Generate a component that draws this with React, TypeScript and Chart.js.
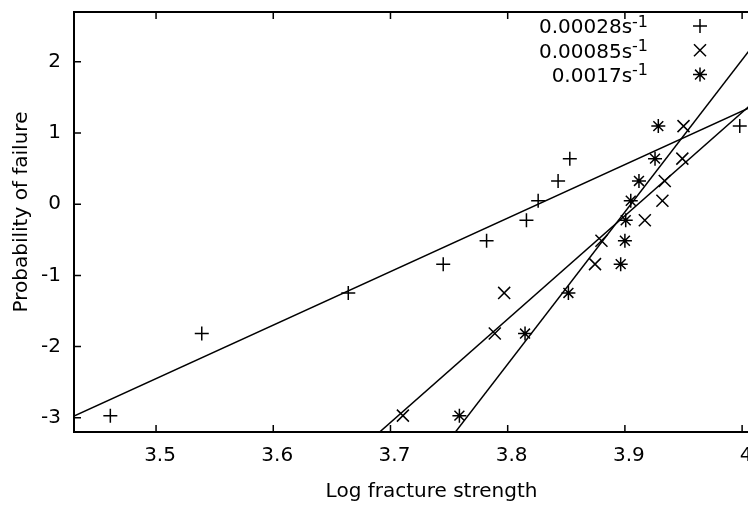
import React, { useEffect, useRef } from 'react';
import { Chart, registerables } from 'chart.js';

Chart.register(...registerables);

// ---- data ----
const seriesLabels = ['0.00028s', '0.00085s', '0.0017s'];
const labelExponent = '-1';
const probability = [-2.97, -1.817, -1.246, -0.842, -0.514, -0.225, 0.049, 0.327, 0.64, 1.097];
const strength00028 = [3.461, 3.539, 3.664, 3.745, 3.782, 3.816, 3.826, 3.843, 3.853, 3.998];
const strength00085 = [3.7106, 3.789, 3.797, 3.8745, 3.88, 3.917, 3.932, 3.934, 3.949, 3.95];
const strength0017 = [3.7588, 3.8148, 3.8518, 3.8964, 3.9, 3.9007, 3.905, 3.912, 3.9257, 3.9285];
const xTicks = [3.5, 3.6, 3.7, 3.8, 3.9, 4.0];
const yTicks = [-3, -2, -1, 0, 1, 2];
const xRange = [3.43, 4.04];
const yRange = [-3.2, 2.7];
const xTitle = 'Log fracture strength';
const yTitle = 'Probability of failure';
const pointStyles = ['cross', 'crossRot', 'star'];
const pointRadii = [7, 8.5, 7];

const seriesX = [strength00028, strength00085, strength0017];

const FONT = '"DejaVu Sans", Verdana, sans-serif';
const CANVAS_W = 800;
const CANVAS_H = 506;

function leastSquares(xs: number[], ys: number[]) {
  const n = xs.length;
  const mx = xs.reduce((a, b) => a + b, 0) / n;
  const my = ys.reduce((a, b) => a + b, 0) / n;
  let sxy = 0;
  let sxx = 0;
  for (let i = 0; i < n; i++) {
    sxy += (xs[i] - mx) * (ys[i] - my);
    sxx += (xs[i] - mx) * (xs[i] - mx);
  }
  const slope = sxy / sxx;
  return (x: number) => my + slope * (x - mx);
}

function drawSymbol(ctx: CanvasRenderingContext2D, style: string, x: number, y: number, r: number) {
  ctx.beginPath();
  if (style === 'cross' || style === 'star') {
    ctx.moveTo(x - r, y);
    ctx.lineTo(x + r, y);
    ctx.moveTo(x, y - r);
    ctx.lineTo(x, y + r);
  }
  if (style === 'crossRot' || style === 'star') {
    const d = r * Math.SQRT1_2;
    ctx.moveTo(x - d, y - d);
    ctx.lineTo(x + d, y + d);
    ctx.moveTo(x - d, y + d);
    ctx.lineTo(x + d, y - d);
  }
  ctx.stroke();
}

const framePlugin = {
  id: 'gnuplotFrame',
  afterDraw(chart: any) {
    const { ctx, chartArea } = chart;
    const { left, right, top, bottom } = chartArea;
    const xs = chart.scales.x;
    const ys = chart.scales.y;
    ctx.save();
    ctx.strokeStyle = '#000';
    ctx.lineWidth = 1.5;
    const tl = 7;
    ctx.beginPath();
    xTicks.forEach((v) => {
      const px = xs.getPixelForValue(v);
      ctx.moveTo(px, bottom);
      ctx.lineTo(px, bottom - tl);
      ctx.moveTo(px, top);
      ctx.lineTo(px, top + tl);
    });
    yTicks.forEach((v) => {
      const py = ys.getPixelForValue(v);
      ctx.moveTo(left, py);
      ctx.lineTo(left + tl, py);
      ctx.moveTo(right, py);
      ctx.lineTo(right - tl, py);
    });
    ctx.stroke();
    ctx.lineWidth = 2;
    ctx.strokeRect(left, top, right - left, bottom - top);

    // y axis title (gnuplot places it slightly above the plot centre)
    ctx.save();
    ctx.fillStyle = '#000';
    ctx.font = `20px ${FONT}`;
    ctx.textAlign = 'center';
    ctx.textBaseline = 'middle';
    ctx.translate(22, (top + bottom) / 2 - 10);
    ctx.rotate(-Math.PI / 2);
    ctx.fillText(yTitle, 0, 0);
    ctx.restore();

    // key (legend)
    const textRight = right - 141;
    const symX = right - 89;
    ctx.fillStyle = '#000';
    ctx.textAlign = 'left';
    ctx.textBaseline = 'alphabetic';
    ctx.lineWidth = 1.5;
    seriesLabels.forEach((label, i) => {
      const rowY = top + 14 + i * 24.3;
      const baseFont = `20px ${FONT}`;
      const supFont = `16px ${FONT}`;
      ctx.font = supFont;
      const wSup = ctx.measureText(labelExponent).width;
      ctx.font = baseFont;
      const wBase = ctx.measureText(label).width;
      const x0 = textRight - wSup - wBase;
      const baseLine = rowY + 7.3;
      ctx.fillText(label, x0, baseLine);
      ctx.font = supFont;
      ctx.fillText(labelExponent, x0 + wBase, baseLine - 6.6);
      drawSymbol(ctx, pointStyles[i], symX, rowY, pointRadii[i]);
    });
    ctx.restore();
  },
};

export default function App() {
  const canvasRef = useRef<HTMLCanvasElement | null>(null);

  useEffect(() => {
    const canvas = canvasRef.current;
    if (!canvas) return;

    const datasets: any[] = [];
    seriesX.forEach((xs, i) => {
      datasets.push({
        label: seriesLabels[i] + labelExponent,
        data: xs.map((x, j) => ({ x, y: probability[j] })),
        showLine: false,
        pointStyle: pointStyles[i],
        pointRadius: pointRadii[i],
        pointHoverRadius: pointRadii[i],
        pointBorderColor: '#000',
        pointBackgroundColor: '#000',
        pointBorderWidth: 1.5,
        borderColor: '#000',
      });
      const f = leastSquares(xs, probability);
      datasets.push({
        label: 'fit ' + seriesLabels[i],
        data: [
          { x: xRange[0], y: f(xRange[0]) },
          { x: xRange[1], y: f(xRange[1]) },
        ],
        showLine: true,
        pointRadius: 0,
        borderColor: '#000',
        borderWidth: 1.5,
        fill: false,
      });
    });

    const tickFont = { family: FONT, size: 20 };

    const chart = new Chart(canvas, {
      type: 'scatter',
      data: { datasets },
      options: {
        responsive: false,
        animation: false,
        devicePixelRatio: 1,
        events: [],
        layout: { padding: { left: 0, top: 12, right: 11, bottom: 0 } },
        plugins: {
          legend: { display: false },
          tooltip: { enabled: false },
        },
        scales: {
          x: {
            type: 'linear',
            position: 'bottom',
            min: xRange[0],
            max: xRange[1],
            grid: { display: false, drawTicks: false },
            border: { display: false },
            afterBuildTicks: (s: any) => {
              s.ticks = xTicks.map((v) => ({ value: v }));
            },
            afterFit: (s: any) => {
              s.height = 74;
              s.paddingLeft = 0;
              s.paddingRight = 0;
              s.paddingTop = 0;
              s.paddingBottom = 0;
            },
            ticks: {
              font: tickFont,
              color: '#000',
              padding: 12,
              labelOffset: 4,
              autoSkip: false,
              maxRotation: 0,
              callback: (v: any) => String(Number(v)),
            },
            title: {
              display: true,
              text: xTitle,
              font: tickFont,
              color: '#000',
              padding: { top: 0, bottom: 2 },
            },
          },
          y: {
            type: 'linear',
            position: 'left',
            min: yRange[0],
            max: yRange[1],
            grid: { display: false, drawTicks: false },
            border: { display: false },
            afterBuildTicks: (s: any) => {
              s.ticks = yTicks.map((v) => ({ value: v }));
            },
            afterFit: (s: any) => {
              s.width = 74;
              s.paddingLeft = 0;
              s.paddingRight = 0;
              s.paddingTop = 0;
              s.paddingBottom = 0;
            },
            ticks: {
              font: tickFont,
              color: '#000',
              padding: 13,
              autoSkip: false,
              callback: (v: any) => String(Number(v)),
            },
            title: { display: false },
          },
        },
      },
      plugins: [framePlugin],
    } as any);

    return () => {
      chart.destroy();
    };
  }, []);

  return (
    <div
      style={{
        position: 'fixed',
        left: 0,
        top: 0,
        width: 748,
        height: 506,
        overflow: 'hidden',
        background: '#fff',
      }}
    >
      <canvas
        ref={canvasRef}
        width={CANVAS_W}
        height={CANVAS_H}
        style={{ display: 'block', width: CANVAS_W, height: CANVAS_H }}
      />
    </div>
  );
}
